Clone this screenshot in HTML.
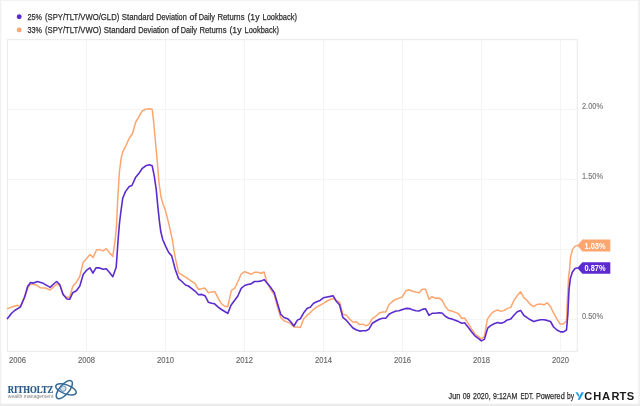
<!DOCTYPE html>
<html><head><meta charset="utf-8"><title>chart</title>
<style>
html,body{margin:0;padding:0;background:#fff;}
body{width:640px;height:406px;overflow:hidden;position:relative;font-family:"Liberation Sans",sans-serif;}
</style></head><body>
<svg width="640" height="406" viewBox="0 0 640 406" style="position:absolute;left:0;top:0;filter:blur(0.35px)">
<rect x="0" y="0" width="640" height="406" fill="#ffffff"/>
<rect x="0" y="0" width="640" height="1.2" fill="#f3f3f3"/>
<rect x="0" y="0" width="1.2" height="406" fill="#f0f0f0"/>
<rect x="638.2" y="0" width="1.8" height="406" fill="#f0f0f0"/>
<rect x="0" y="403.8" width="640" height="2.2" fill="#ececec"/>
<line x1="86.5" y1="39.5" x2="86.5" y2="351.5" stroke="#f4f4f4" stroke-width="1"/>
<line x1="165.5" y1="39.5" x2="165.5" y2="351.5" stroke="#f4f4f4" stroke-width="1"/>
<line x1="244.5" y1="39.5" x2="244.5" y2="351.5" stroke="#f4f4f4" stroke-width="1"/>
<line x1="323.5" y1="39.5" x2="323.5" y2="351.5" stroke="#f4f4f4" stroke-width="1"/>
<line x1="402.5" y1="39.5" x2="402.5" y2="351.5" stroke="#f4f4f4" stroke-width="1"/>
<line x1="481.5" y1="39.5" x2="481.5" y2="351.5" stroke="#f4f4f4" stroke-width="1"/>
<line x1="560.5" y1="39.5" x2="560.5" y2="351.5" stroke="#f4f4f4" stroke-width="1"/>
<line x1="7.5" y1="109.5" x2="577.5" y2="109.5" stroke="#f4f4f4" stroke-width="1"/>
<line x1="7.5" y1="179.5" x2="577.5" y2="179.5" stroke="#f4f4f4" stroke-width="1"/>
<line x1="7.5" y1="249.5" x2="577.5" y2="249.5" stroke="#f4f4f4" stroke-width="1"/>
<line x1="7.5" y1="319.5" x2="577.5" y2="319.5" stroke="#f4f4f4" stroke-width="1"/>
<rect x="7.4" y="39.6" width="569.9" height="311.8" fill="none" stroke="#ededed" stroke-width="1.2"/>
<path d="M7.5,308.6 L12.8,306.7 L17.3,305.2 L20.3,306.7 L24.6,296.3 L28.6,286.5 L31.1,283.9 L36.5,285.1 L40.4,287.8 L45.3,288.0 L50.2,290.0 L54.2,286.5 L57.1,283.9 L60.1,285.7 L63.2,294.9 L66.2,296.9 L69.5,297.6 L72.8,286.2 L76.4,282.2 L79.8,276.5 L83.1,262.4 L86.6,258.4 L90.0,254.5 L93.1,257.4 L96.5,250.0 L99.4,249.6 L103.0,250.9 L106.3,248.6 L109.3,252.5 L112.8,256.5 L115.2,239.7 L116.5,226.0 L117.7,199.3 L119.4,172.0 L121.2,158.0 L122.7,152.1 L125.6,146.2 L129.2,138.3 L132.5,133.7 L135.5,122.5 L139.0,116.6 L142.4,110.7 L145.7,109.3 L149.3,108.7 L152.2,109.3 L153.6,121.5 L155.2,139.3 L156.7,155.0 L157.8,168.0 L159.1,183.5 L161.1,197.3 L163.1,204.2 L165.0,209.1 L168.0,220.6 L169.8,228.2 L172.1,238.7 L175.2,257.4 L178.6,272.8 L181.9,274.8 L185.5,277.1 L188.4,279.1 L191.8,281.5 L194.9,283.4 L198.3,289.4 L201.5,288.8 L204.8,288.0 L208.4,292.8 L211.9,292.0 L214.8,291.4 L218.2,298.3 L221.1,303.2 L224.5,306.2 L227.8,306.7 L231.4,290.4 L234.7,288.4 L237.9,281.5 L241.2,274.0 L244.6,271.7 L247.7,272.7 L251.1,274.2 L254.4,272.3 L257.6,272.3 L260.9,273.2 L264.1,272.0 L266.9,282.2 L270.8,289.6 L274.2,294.5 L277.3,306.3 L280.7,317.5 L284.0,320.7 L287.6,322.1 L290.5,323.4 L293.9,327.0 L297.4,327.0 L300.4,327.4 L303.7,318.7 L307.3,315.2 L310.2,312.8 L313.6,309.3 L316.7,306.9 L320.1,305.3 L323.4,303.3 L327.0,301.0 L330.3,299.5 L333.5,298.5 L336.5,300.5 L339.7,302.5 L342.8,314.3 L346.2,314.9 L349.7,319.3 L353.1,322.2 L356.2,321.8 L359.6,324.6 L362.9,324.2 L366.1,325.8 L369.0,324.2 L372.4,318.3 L375.7,316.3 L379.3,313.0 L382.6,312.0 L385.8,312.0 L389.1,304.5 L392.5,301.5 L396.0,299.2 L399.0,298.2 L402.4,296.9 L405.9,290.7 L408.9,289.7 L412.4,291.3 L415.8,292.1 L419.1,292.7 L422.3,289.3 L425.6,289.3 L429.0,299.2 L432.1,296.6 L435.5,298.2 L438.8,298.0 L442.0,300.0 L445.3,306.5 L448.7,310.4 L451.8,311.0 L455.2,312.4 L458.5,313.7 L461.7,318.3 L464.6,317.9 L468.0,323.2 L471.5,328.8 L474.9,334.0 L478.3,336.4 L481.4,339.0 L484.4,336.4 L487.3,319.3 L490.7,314.3 L494.0,311.4 L497.6,310.0 L500.9,311.4 L504.1,310.4 L507.4,308.4 L510.8,307.4 L513.9,300.5 L517.3,295.6 L520.6,291.7 L523.8,297.6 L527.1,300.5 L530.3,304.4 L533.5,306.6 L537.0,304.4 L540.3,303.9 L543.9,304.8 L547.1,302.8 L550.5,306.5 L553.6,313.2 L557.0,319.1 L560.1,324.0 L563.1,324.0 L566.5,321.1 L567.4,299.4 L568.7,275.8 L569.6,269.1 L570.5,257.3 L572.5,249.4 L575.1,246.1 L577.3,245.5" fill="none" stroke="#fda66f" stroke-width="1.5" stroke-linejoin="round" stroke-linecap="round"/>
<path d="M7.5,318.6 L11.8,313.0 L15.8,309.7 L20.3,307.1 L24.6,297.3 L27.6,286.5 L30.5,282.5 L33.5,283.1 L37.4,281.5 L42.4,282.9 L46.3,285.1 L50.2,287.4 L54.2,283.5 L56.7,281.5 L59.7,284.5 L63.1,294.6 L66.9,299.0 L69.7,299.3 L72.8,292.7 L76.4,290.7 L79.8,286.0 L83.3,274.2 L86.6,270.2 L90.0,267.9 L92.9,273.2 L96.1,267.7 L99.4,267.9 L103.0,269.3 L106.3,268.7 L109.3,272.2 L112.8,276.7 L116.2,267.3 L118.1,239.7 L119.4,224.0 L120.7,213.0 L122.7,198.3 L125.6,191.4 L129.2,186.5 L131.9,185.5 L135.5,177.6 L138.8,173.6 L142.0,168.7 L145.7,165.8 L149.3,164.8 L152.2,165.8 L154.2,175.6 L156.2,189.4 L158.1,209.1 L159.5,222.0 L160.8,231.8 L162.8,239.7 L165.8,246.6 L168.7,252.5 L171.7,255.9 L175.2,269.3 L178.6,278.7 L181.9,281.5 L185.5,285.0 L188.4,286.0 L191.8,288.6 L195.3,291.3 L198.5,294.7 L201.7,294.4 L205.0,295.7 L208.3,302.2 L211.7,303.2 L214.6,303.8 L218.2,307.1 L221.5,309.5 L225.1,311.7 L227.8,313.4 L231.0,305.2 L234.3,300.8 L237.7,296.3 L241.2,288.4 L244.6,285.5 L247.7,284.5 L251.1,283.9 L254.4,281.5 L257.6,281.5 L260.9,281.1 L264.1,279.6 L267.4,283.5 L270.8,287.6 L274.2,292.5 L277.7,304.3 L280.7,314.2 L284.0,317.5 L287.6,318.7 L290.5,321.5 L293.9,326.0 L297.4,320.1 L300.4,318.7 L303.7,312.8 L307.3,308.3 L310.2,307.3 L313.6,303.3 L316.7,301.8 L320.1,300.4 L323.4,297.8 L327.0,297.0 L330.3,296.4 L333.2,295.8 L336.2,301.2 L339.5,304.8 L342.8,317.3 L346.2,320.2 L349.7,324.2 L352.7,327.7 L356.0,329.7 L359.6,331.1 L362.9,330.7 L366.1,330.7 L369.0,329.1 L372.4,323.2 L375.7,321.2 L379.3,319.3 L382.6,318.3 L385.8,318.3 L389.1,314.3 L392.5,312.4 L396.0,311.0 L399.0,310.8 L402.5,309.4 L405.9,308.4 L409.3,308.6 L412.4,309.8 L415.8,310.8 L419.1,311.0 L422.3,309.4 L425.6,308.8 L429.0,315.3 L432.1,313.3 L435.5,313.3 L438.8,312.8 L442.0,313.0 L445.3,316.3 L448.7,318.3 L451.8,318.9 L455.2,320.2 L458.5,321.6 L461.7,323.2 L464.6,322.8 L468.0,327.1 L471.5,331.8 L474.9,335.8 L478.3,338.4 L481.4,340.9 L484.4,339.4 L487.7,328.1 L490.7,325.6 L494.0,323.8 L497.6,322.6 L500.9,323.2 L504.1,322.2 L507.4,319.9 L510.8,318.9 L513.9,315.3 L517.3,311.8 L520.6,310.4 L523.8,315.3 L527.1,317.7 L530.4,319.8 L533.8,321.5 L537.2,320.5 L540.5,319.8 L544.0,319.7 L547.1,320.4 L550.5,321.5 L553.6,327.0 L557.0,330.0 L560.5,331.9 L563.5,331.9 L566.5,330.0 L567.8,315.2 L569.0,289.6 L570.4,278.2 L572.4,272.0 L575.0,268.6 L577.3,268.0" fill="none" stroke="#5b2bd0" stroke-width="1.6" stroke-linejoin="round" stroke-linecap="round"/>
<path d="M577.3,245.5 L582.4,239.6 L610.3,239.6 L610.3,251.4 L582.4,251.4 Z" fill="#fda66f"/>
<path d="M577.3,268 L582.4,262.2 L610.3,262.2 L610.3,273.8 L582.4,273.8 Z" fill="#5b2bd0"/>
<text x="584.5" y="248.8" font-family="Liberation Sans, sans-serif" font-size="9" font-weight="bold" fill="#fff" textLength="21" lengthAdjust="spacingAndGlyphs">1.03%</text>
<text x="584.5" y="271.3" font-family="Liberation Sans, sans-serif" font-size="9" font-weight="bold" fill="#fff" textLength="21" lengthAdjust="spacingAndGlyphs">0.87%</text>
<text x="582" y="109" font-family="Liberation Sans, sans-serif" font-size="9" fill="#747474" stroke="#747474" stroke-width="0.12" textLength="21" lengthAdjust="spacingAndGlyphs">2.00%</text>
<text x="582" y="179" font-family="Liberation Sans, sans-serif" font-size="9" fill="#747474" stroke="#747474" stroke-width="0.12" textLength="21" lengthAdjust="spacingAndGlyphs">1.50%</text>
<text x="582" y="319" font-family="Liberation Sans, sans-serif" font-size="9" fill="#747474" stroke="#747474" stroke-width="0.12" textLength="21" lengthAdjust="spacingAndGlyphs">0.50%</text>
<text x="9" y="363.3" font-family="Liberation Sans, sans-serif" font-size="9" fill="#686868" stroke="#686868" stroke-width="0.15" textLength="17" lengthAdjust="spacingAndGlyphs">2006</text>
<text x="78.0" y="363.3" font-family="Liberation Sans, sans-serif" font-size="9" fill="#686868" stroke="#686868" stroke-width="0.15" textLength="17" lengthAdjust="spacingAndGlyphs">2008</text>
<text x="157.0" y="363.3" font-family="Liberation Sans, sans-serif" font-size="9" fill="#686868" stroke="#686868" stroke-width="0.15" textLength="17" lengthAdjust="spacingAndGlyphs">2010</text>
<text x="236.0" y="363.3" font-family="Liberation Sans, sans-serif" font-size="9" fill="#686868" stroke="#686868" stroke-width="0.15" textLength="17" lengthAdjust="spacingAndGlyphs">2012</text>
<text x="315.0" y="363.3" font-family="Liberation Sans, sans-serif" font-size="9" fill="#686868" stroke="#686868" stroke-width="0.15" textLength="17" lengthAdjust="spacingAndGlyphs">2014</text>
<text x="394.0" y="363.3" font-family="Liberation Sans, sans-serif" font-size="9" fill="#686868" stroke="#686868" stroke-width="0.15" textLength="17" lengthAdjust="spacingAndGlyphs">2016</text>
<text x="473.0" y="363.3" font-family="Liberation Sans, sans-serif" font-size="9" fill="#686868" stroke="#686868" stroke-width="0.15" textLength="17" lengthAdjust="spacingAndGlyphs">2018</text>
<text x="552.0" y="363.3" font-family="Liberation Sans, sans-serif" font-size="9" fill="#686868" stroke="#686868" stroke-width="0.15" textLength="17" lengthAdjust="spacingAndGlyphs">2020</text>
<circle cx="19.2" cy="16.8" r="2.45" fill="#5b2bd0"/>
<circle cx="19.2" cy="30" r="2.45" fill="#fda66f"/>
<text x="27.5" y="20.2" font-family="Liberation Sans, sans-serif" font-size="9" fill="#2e2e2e" stroke="#2e2e2e" stroke-width="0.25" textLength="14.50" lengthAdjust="spacingAndGlyphs">25%</text>
<text x="45" y="20.2" font-family="Liberation Sans, sans-serif" font-size="9" fill="#2e2e2e" stroke="#2e2e2e" stroke-width="0.25" textLength="74.25" lengthAdjust="spacingAndGlyphs">(SPY/TLT/VWO/GLD)</text>
<text x="121.75" y="20.2" font-family="Liberation Sans, sans-serif" font-size="9" fill="#2e2e2e" stroke="#2e2e2e" stroke-width="0.25" textLength="32.00" lengthAdjust="spacingAndGlyphs">Standard</text>
<text x="156.25" y="20.2" font-family="Liberation Sans, sans-serif" font-size="9" fill="#2e2e2e" stroke="#2e2e2e" stroke-width="0.25" textLength="30.50" lengthAdjust="spacingAndGlyphs">Deviation</text>
<text x="189.5" y="20.2" font-family="Liberation Sans, sans-serif" font-size="9" fill="#2e2e2e" stroke="#2e2e2e" stroke-width="0.25" textLength="7.50" lengthAdjust="spacingAndGlyphs">of</text>
<text x="198.75" y="20.2" font-family="Liberation Sans, sans-serif" font-size="9" fill="#2e2e2e" stroke="#2e2e2e" stroke-width="0.25" textLength="16.25" lengthAdjust="spacingAndGlyphs">Daily</text>
<text x="217.5" y="20.2" font-family="Liberation Sans, sans-serif" font-size="9" fill="#2e2e2e" stroke="#2e2e2e" stroke-width="0.25" textLength="27.00" lengthAdjust="spacingAndGlyphs">Returns</text>
<text x="247.5" y="20.2" font-family="Liberation Sans, sans-serif" font-size="9" fill="#2e2e2e" stroke="#2e2e2e" stroke-width="0.25" textLength="12.00" lengthAdjust="spacingAndGlyphs">(1y</text>
<text x="262.5" y="20.2" font-family="Liberation Sans, sans-serif" font-size="9" fill="#2e2e2e" stroke="#2e2e2e" stroke-width="0.25" textLength="34.50" lengthAdjust="spacingAndGlyphs">Lookback)</text>
<text x="27.5" y="33.4" font-family="Liberation Sans, sans-serif" font-size="9" fill="#2e2e2e" stroke="#2e2e2e" stroke-width="0.25" textLength="14.50" lengthAdjust="spacingAndGlyphs">33%</text>
<text x="45" y="33.4" font-family="Liberation Sans, sans-serif" font-size="9" fill="#2e2e2e" stroke="#2e2e2e" stroke-width="0.25" textLength="56.25" lengthAdjust="spacingAndGlyphs">(SPY/TLT/VWO)</text>
<text x="103.75" y="33.4" font-family="Liberation Sans, sans-serif" font-size="9" fill="#2e2e2e" stroke="#2e2e2e" stroke-width="0.25" textLength="32.00" lengthAdjust="spacingAndGlyphs">Standard</text>
<text x="138.25" y="33.4" font-family="Liberation Sans, sans-serif" font-size="9" fill="#2e2e2e" stroke="#2e2e2e" stroke-width="0.25" textLength="30.50" lengthAdjust="spacingAndGlyphs">Deviation</text>
<text x="171.5" y="33.4" font-family="Liberation Sans, sans-serif" font-size="9" fill="#2e2e2e" stroke="#2e2e2e" stroke-width="0.25" textLength="7.50" lengthAdjust="spacingAndGlyphs">of</text>
<text x="180.75" y="33.4" font-family="Liberation Sans, sans-serif" font-size="9" fill="#2e2e2e" stroke="#2e2e2e" stroke-width="0.25" textLength="16.25" lengthAdjust="spacingAndGlyphs">Daily</text>
<text x="199.5" y="33.4" font-family="Liberation Sans, sans-serif" font-size="9" fill="#2e2e2e" stroke="#2e2e2e" stroke-width="0.25" textLength="27.00" lengthAdjust="spacingAndGlyphs">Returns</text>
<text x="229.5" y="33.4" font-family="Liberation Sans, sans-serif" font-size="9" fill="#2e2e2e" stroke="#2e2e2e" stroke-width="0.25" textLength="12.00" lengthAdjust="spacingAndGlyphs">(1y</text>
<text x="244.5" y="33.4" font-family="Liberation Sans, sans-serif" font-size="9" fill="#2e2e2e" stroke="#2e2e2e" stroke-width="0.25" textLength="34.50" lengthAdjust="spacingAndGlyphs">Lookback)</text>
<text x="448.6" y="399.1" font-family="Liberation Sans, sans-serif" font-size="9" fill="#2e2e2e" stroke="#2e2e2e" stroke-width="0.25" textLength="11.70" lengthAdjust="spacingAndGlyphs">Jun</text>
<text x="462.7" y="399.1" font-family="Liberation Sans, sans-serif" font-size="9" fill="#2e2e2e" stroke="#2e2e2e" stroke-width="0.25" textLength="7.80" lengthAdjust="spacingAndGlyphs">09</text>
<text x="473.1" y="399.1" font-family="Liberation Sans, sans-serif" font-size="9" fill="#2e2e2e" stroke="#2e2e2e" stroke-width="0.25" textLength="17.50" lengthAdjust="spacingAndGlyphs">2020,</text>
<text x="493.1" y="399.1" font-family="Liberation Sans, sans-serif" font-size="9" fill="#2e2e2e" stroke="#2e2e2e" stroke-width="0.25" textLength="24.20" lengthAdjust="spacingAndGlyphs">9:12AM</text>
<text x="520.5" y="399.1" font-family="Liberation Sans, sans-serif" font-size="9" fill="#2e2e2e" stroke="#2e2e2e" stroke-width="0.25" textLength="13.25" lengthAdjust="spacingAndGlyphs">EDT.</text>
<text x="535.9" y="399.1" font-family="Liberation Sans, sans-serif" font-size="9" fill="#2e2e2e" stroke="#2e2e2e" stroke-width="0.25" textLength="28.80" lengthAdjust="spacingAndGlyphs">Powered</text>
<text x="567" y="399.1" font-family="Liberation Sans, sans-serif" font-size="9" fill="#2e2e2e" stroke="#2e2e2e" stroke-width="0.25" textLength="7.00" lengthAdjust="spacingAndGlyphs">by</text>
<path d="M575.4,392.3 L577.6,392.3 L579.4,395.4 L578.6,397.0 Z" fill="#1e9bea"/>
<path d="M581.5,392.3 L583.9,392.3 L579.9,399.8 L577.6,399.8 Z" fill="#1e9bea"/>
<text x="584.2" y="399.8" font-family="Liberation Sans, sans-serif" font-size="10.4" font-weight="bold" fill="#1b1b1b" textLength="8.0" lengthAdjust="spacingAndGlyphs">C</text>
<text x="593.2" y="399.8" font-family="Liberation Sans, sans-serif" font-size="10.4" font-weight="bold" fill="#1b1b1b" textLength="8.0" lengthAdjust="spacingAndGlyphs">H</text>
<text x="601.9" y="399.8" font-family="Liberation Sans, sans-serif" font-size="10.4" font-weight="bold" fill="#1b1b1b" textLength="8.2" lengthAdjust="spacingAndGlyphs">A</text>
<text x="611.5" y="399.8" font-family="Liberation Sans, sans-serif" font-size="10.4" font-weight="bold" fill="#1b1b1b" textLength="8.0" lengthAdjust="spacingAndGlyphs">R</text>
<text x="619.5" y="399.8" font-family="Liberation Sans, sans-serif" font-size="10.4" font-weight="bold" fill="#1b1b1b" textLength="6.8" lengthAdjust="spacingAndGlyphs">T</text>
<text x="626.8" y="399.8" font-family="Liberation Sans, sans-serif" font-size="10.4" font-weight="bold" fill="#1b1b1b" textLength="7.4" lengthAdjust="spacingAndGlyphs">S</text>
<text x="7.8" y="393.1" font-family="Liberation Serif, serif" font-size="10" font-weight="bold" fill="#27598a" stroke="#27598a" stroke-width="0.2" textLength="45.6" lengthAdjust="spacingAndGlyphs">RITHOLTZ</text>
<text x="7.8" y="397.6" font-family="Liberation Sans, sans-serif" font-size="4.6" fill="#808080" textLength="45.5" lengthAdjust="spacingAndGlyphs">wealth management</text>
<g fill="none" stroke="#2a6090" stroke-width="1.45" opacity="0.95"><circle cx="63.2" cy="388.6" r="2.6" fill="#d3e0ec" stroke="none"/><ellipse cx="64.3" cy="389.6" rx="11.2" ry="4.8" transform="rotate(-50 64.3 389.6)"/><ellipse cx="66" cy="389.4" rx="10.8" ry="4.5" transform="rotate(20 66 389.4)"/><circle cx="63.2" cy="388.6" r="2.8" stroke-width="0.9" stroke="#4c7ba4"/></g>
</svg>
</body></html>
